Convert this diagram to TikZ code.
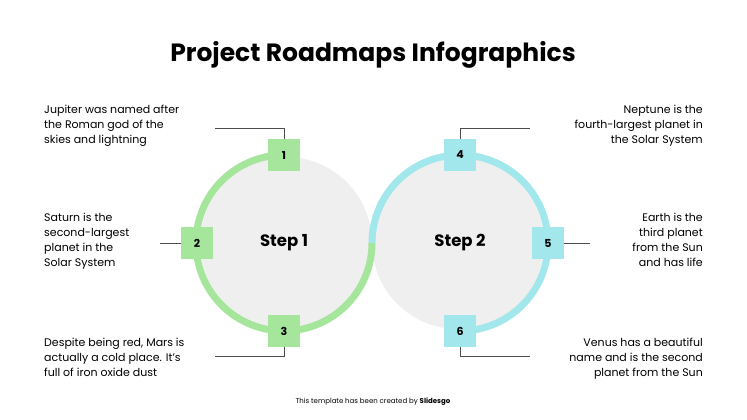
\documentclass[tikz,border=0pt]{standalone}
\usepackage{fontspec}
\setmainfont{Poppins}
\definecolor{grn}{HTML}{A6E59C}
\definecolor{blu}{HTML}{A2E7EC}
\definecolor{gry}{HTML}{EFEFEF}
\begin{document}
\begin{tikzpicture}[x=1pt,y=-1pt,
  num/.style={fill=#1,minimum size=32pt,inner sep=0,font=\fontsize{11}{12}\selectfont\bfseries},
  txtl/.style={align=left,anchor=north west,inner sep=0,font=\fontsize{11}{15}\selectfont},
  txtr/.style={align=right,anchor=north east,inner sep=0,font=\fontsize{11}{15}\selectfont},
  lead/.style={draw=black!70,line width=0.7pt}]
\useasboundingbox (0,0) rectangle (747,420);
\node[font=\fontsize{25}{28}\selectfont\bfseries] (title) at (373,55) {Project Roadmaps Infographics};
\fill[gry] (286,243) circle (86);
\fill[gry] (458,243) circle (86);
\draw[grn,line width=7pt] (284,243) ++(-80:88) arc (-80:-360:88);
\draw[blu,line width=7pt] (460,243) ++(80:88) arc (80:-180:88);
\node[font=\fontsize{16.5}{18}\selectfont\bfseries] (s1) at (284,243) {Step 1};
\node[font=\fontsize{16.5}{18}\selectfont\bfseries] (s2) at (460,243) {Step 2};
\node[num=grn] (n1) at (284,155) {1};
\node[num=grn] (n2) at (197,243) {2};
\node[num=grn] (n3) at (284,331) {3};
\node[num=blu] (n4) at (460,155) {4};
\node[num=blu] (n5) at (548,243) {5};
\node[num=blu] (n6) at (460,331) {6};
\coordinate (c1) at (215,128); \coordinate (c2) at (160,243); \coordinate (c3) at (215,356);
\coordinate (c4) at (530,128); \coordinate (c5) at (590,243); \coordinate (c6) at (530,356);
\draw[lead] (n1.north) |- (c1);
\draw[lead] (n2.west) -- (c2);
\draw[lead] (n3.south) |- (c3);
\draw[lead] (n4.north) |- (c4);
\draw[lead] (n5.east) -- (c5);
\draw[lead] (n6.south) |- (c6);
\node[txtl] (t1) at (44,105) {Jupiter was named after\\the Roman god of the\\skies and lightning};
\node[txtl] (t2) at (44,213) {Saturn is the\\second-largest\\planet in the\\Solar System};
\node[txtl] (t3) at (44,338) {Despite being red, Mars is\\actually a cold place. It’s\\full of iron oxide dust};
\node[txtr] (t4) at (703,105) {Neptune is the\\fourth-largest planet in\\the Solar System};
\node[txtr] (t5) at (703,213) {Earth is the\\third planet\\from the Sun\\and has life};
\node[txtr] (t6) at (703,338) {Venus has a beautiful\\name and is the second\\planet from the Sun};
\node[font=\fontsize{7}{8}\selectfont] (foot) at (373,402) {This template has been created by \textbf{Slidesgo}};
\end{tikzpicture}
\end{document}
